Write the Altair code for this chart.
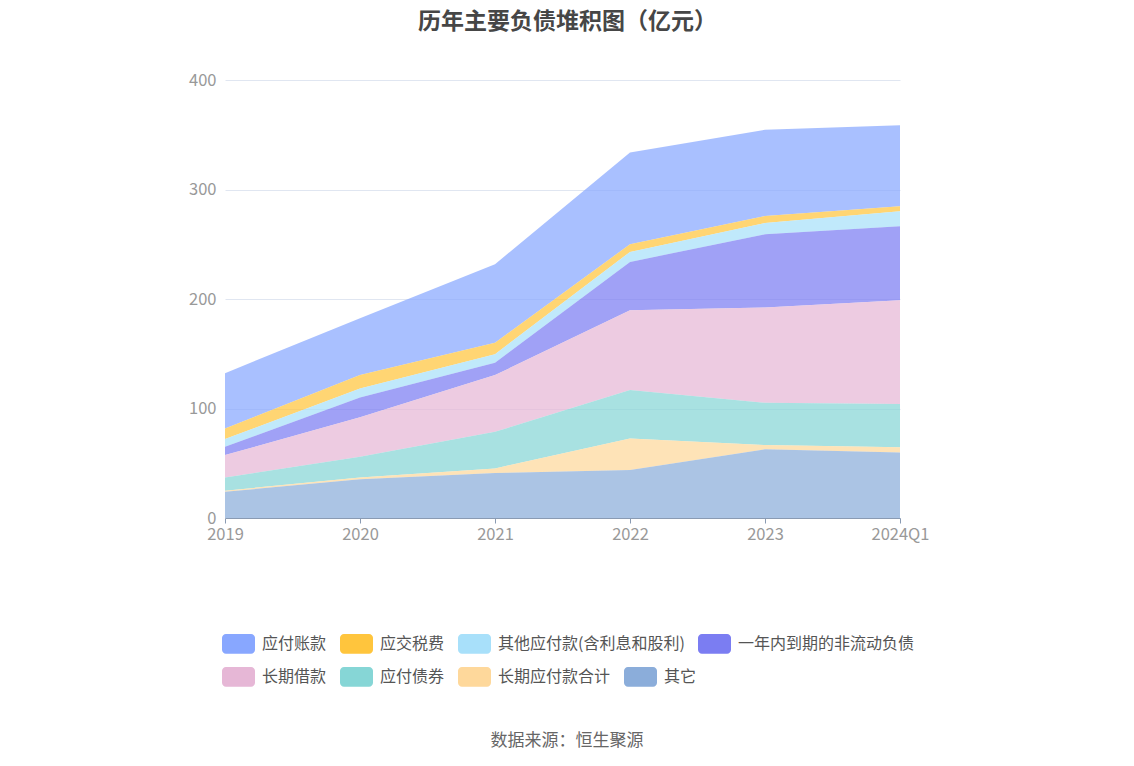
import altair as alt
import pandas as pd

years = ["2019", "2020", "2021", "2022", "2023", "2024Q1"]
series_names = ["应付账款", "应交税费", "其他应付款(含利息和股利)", "一年内到期的非流动负债",
                "长期借款", "应付债券", "长期应付款合计", "其它"]
colors = ["#88a7ff", "#ffc53d", "#a8e0fa", "#7b7df2", "#e6b7d6", "#86d6d6", "#fed89b", "#8badda"]

yingfu_zhangkuan = [50.5, 52.0, 71.8, 83.7, 78.8, 73.9]
yingjiao_shuifei = [9.7, 12.2, 10.4, 7.0, 6.4, 4.6]
qita_yingfu = [7.0, 8.2, 7.9, 9.1, 10.3, 13.7]
yinian_daoqi = [7.6, 18.2, 11.2, 44.1, 66.9, 67.5]
changqi_jiekuan = [20.4, 36.0, 51.8, 73.0, 87.0, 94.9]
yingfu_zhaiquan = [12.2, 18.8, 33.4, 44.1, 38.6, 39.5]
changqi_yingfu = [0.9, 1.8, 4.2, 28.9, 3.9, 4.6]
qita = [24.0, 35.3, 41.1, 43.8, 62.7, 59.9]

values = [yingfu_zhangkuan, yingjiao_shuifei, qita_yingfu, yinian_daoqi,
          changqi_jiekuan, yingfu_zhaiquan, changqi_yingfu, qita]

rows = []
n = len(series_names)
for i, (name, vals) in enumerate(zip(series_names, values)):
    for y, v in zip(years, vals):
        rows.append({"年份": y, "类别": name, "值": v, "顺序": n - i})
df = pd.DataFrame(rows)

FONT = "Noto Sans CJK SC"
legend_shape = ("M-0.76,-0.6 H0.76 A0.24,0.24 0 0 1 1,-0.36 V0.36 A0.24,0.24 0 0 1 0.76,0.6 "
                "H-0.76 A0.24,0.24 0 0 1 -1,0.36 V-0.36 A0.24,0.24 0 0 1 -0.76,-0.6 Z")

x_enc = alt.X("年份:O", sort=years, scale=alt.Scale(type="point", padding=0),
              axis=alt.Axis(title=None, labelAngle=0, labelFont=FONT, labelFontSize=16.5,
                            labelColor="#999999", domainColor="#8a9bb3", tickColor="#8a9bb3",
                            tickSize=5, labelPadding=3, grid=False))

area = alt.Chart(df).mark_area(opacity=0.72, interpolate="linear").encode(
    x=x_enc,
    y=alt.Y("值:Q", stack="zero", scale=alt.Scale(domain=[0, 400]),
            axis=alt.Axis(title=None, values=[0, 100, 200, 300, 400], labelFont=FONT,
                          labelFontSize=16.5, labelColor="#999999", domain=False, ticks=False,
                          labelPadding=9, gridColor="#e0e6f1")),
    color=alt.Color("类别:N", scale=alt.Scale(domain=series_names, range=colors), legend=None),
    order=alt.Order("顺序:Q", sort="ascending"),
)


def legend_row(names, cols, ly):
    sub = df[df["类别"].isin(names)]
    return alt.Chart(sub).mark_square(size=0, opacity=0).encode(
        x=alt.X("年份:O", sort=years),
        y=alt.Y("值:Q", stack=None),
        color=alt.Color("类别:N", scale=alt.Scale(domain=names, range=cols),
                        legend=alt.Legend(title=None, orient="none", legendX=-3, legendY=ly,
                                          direction="horizontal", columns=4,
                                          symbolType=legend_shape, symbolSize=1089,
                                          symbolOpacity=1, symbolStrokeWidth=0,
                                          labelFont=FONT, labelFontSize=16,
                                          labelColor="#555555", labelOffset=7,
                                          columnPadding=13, labelLimit=400)),
    )


leg1 = legend_row(series_names[:4], colors[:4], 547)
leg2 = legend_row(series_names[4:], colors[4:], 580)

source = alt.Chart(pd.DataFrame({"t": ["数据来源：恒生聚源"]})).mark_text(
    font=FONT, fontSize=17, color="#666666", align="center", baseline="middle"
).encode(text="t:N", x=alt.value(342), y=alt.value(661))

chart = alt.layer(area, leg1, leg2, source).resolve_scale(color="independent").properties(
    width=675, height=438,
    title=alt.TitleParams("历年主要负债堆积图（亿元）", font=FONT, fontSize=23, fontWeight="bold",
                          color="#464646", anchor="middle", offset=38, dx=5),
    autosize=alt.AutoSizeParams(type="none"),
    padding={"left": 217, "top": 72, "right": 226, "bottom": 240},
).configure_view(stroke=None)

chart.save("out.html", embed_options={"renderer": "svg", "actions": False})
